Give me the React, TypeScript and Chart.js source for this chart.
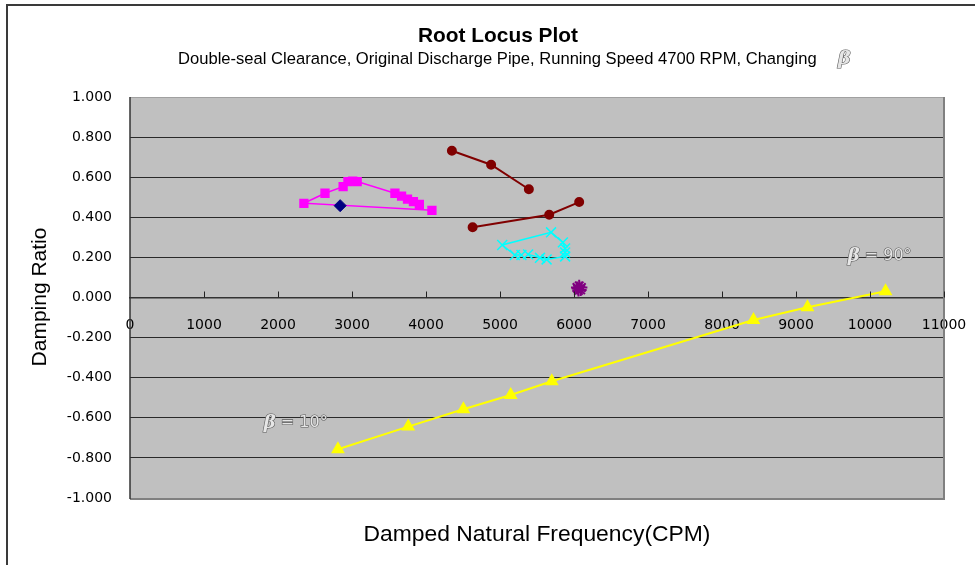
import React, { useEffect, useRef } from "react";
import { Chart, registerables } from "chart.js";
Chart.register(...registerables);

// ---- data ----
const xTickValues = [0, 1000, 2000, 3000, 4000, 5000, 6000, 7000, 8000, 9000, 10000, 11000];
const yTickLabels = ["1.000", "0.800", "0.600", "0.400", "0.200", "0.000", "-0.200", "-0.400", "-0.600", "-0.800", "-1.000"];

const pinkX = [4080, 2350, 2635, 2880, 2945, 3010, 3070, 3580, 3670, 3750, 3830, 3910];
const pinkY = [0.435, 0.47, 0.52, 0.553, 0.578, 0.58, 0.578, 0.52, 0.506, 0.491, 0.478, 0.465];

const navyX = [2840];
const navyY = [0.458];

const brownAX = [4350, 4880, 5390];
const brownAY = [0.732, 0.662, 0.54];
const brownBX = [4630, 5665, 6070];
const brownBY = [0.35, 0.413, 0.476];

const cyanX = [5290, 5200, 5030, 5690, 5850, 5880, 5880, 5880, 5630, 5540, 5380];
const cyanY = [0.212, 0.212, 0.262, 0.325, 0.275, 0.245, 0.225, 0.205, 0.19, 0.198, 0.215];

const purpleX = [6040, 6070, 6100, 6060, 6090, 6050];
const purpleY = [0.05, 0.058, 0.05, 0.035, 0.038, 0.045];

const yellowX = [2810, 3760, 4505, 5145, 5700, 8425, 9155, 10210];
const yellowY = [-0.757, -0.644, -0.557, -0.486, -0.418, -0.112, -0.049, 0.031];

const noteText = ["= 90°", "= 10°"];
const noteX = [10130, 2240];
const noteY = [0.207, -0.626];

const titleText = "Root Locus Plot";
const subtitleText = "Double-seal Clearance, Original Discharge Pipe, Running Speed 4700 RPM, Changing";
const xTitle = "Damped Natural Frequency(CPM)";
const yTitle = "Damping Ratio";

const pts = (xs: number[], ys: number[]) => xs.map((x, i) => ({ x, y: ys[i] }));

const fitSize = (ctx: CanvasRenderingContext2D, text: string, style: string, family: string, target: number) => {
  ctx.font = `${style} 100px ${family}`;
  const w = ctx.measureText(text).width;
  return (100 * target) / w;
};

const embossText = (ctx: CanvasRenderingContext2D, text: string, x: number, y: number) => {
  ctx.lineWidth = 1.2;
  ctx.strokeStyle = "#5a5a5a";
  ctx.fillStyle = "#e6e6e6";
  ctx.strokeText(text, x, y);
  ctx.fillText(text, x, y);
};

const decorPlugin = {
  id: "decor",
  beforeDraw(chart: any) {
    const { ctx, chartArea: a } = chart;
    ctx.save();
    ctx.fillStyle = "#ffffff";
    ctx.fillRect(0, 0, chart.width, chart.height);
    ctx.fillStyle = "#C0C0C0";
    ctx.fillRect(a.left, a.top, a.right - a.left, a.bottom - a.top);
    ctx.restore();
  },
  afterDraw(chart: any) {
    const { ctx, chartArea: a, scales } = chart;
    const xs = scales.x;
    const ys = scales.y;
    ctx.save();
    // plot-area edges
    ctx.strokeStyle = "#a0a0a0";
    ctx.lineWidth = 1;
    ctx.beginPath();
    ctx.moveTo(a.left, a.top + 0.5);
    ctx.lineTo(a.right, a.top + 0.5);
    ctx.stroke();
    ctx.strokeStyle = "#808080";
    ctx.lineWidth = 2;
    ctx.beginPath();
    ctx.moveTo(a.right, a.top);
    ctx.lineTo(a.right, a.bottom + 1);
    ctx.lineTo(a.left, a.bottom + 1);
    ctx.stroke();
    ctx.strokeStyle = "#333";
    ctx.lineWidth = 1.5;
    ctx.beginPath();
    ctx.moveTo(a.left, a.top);
    ctx.lineTo(a.left, a.bottom + 1);
    ctx.stroke();
    // outer frame
    ctx.strokeStyle = "#3a3a3a";
    ctx.lineWidth = 2;
    ctx.beginPath();
    ctx.moveTo(7, chart.height);
    ctx.lineTo(7, 5);
    ctx.lineTo(chart.width, 5);
    ctx.stroke();
    // x tick marks (inside, above the axis)
    const y0 = ys.getPixelForValue(0);
    ctx.strokeStyle = "#222";
    ctx.lineWidth = 1;
    xTickValues.forEach((v) => {
      if (v === 0) return;
      const px = Math.round(xs.getPixelForValue(v)) + 0.5;
      ctx.beginPath();
      ctx.moveTo(px, y0 - 6);
      ctx.lineTo(px, y0);
      ctx.stroke();
    });
    // titles
    ctx.fillStyle = "#000";
    ctx.textBaseline = "middle";
    ctx.textAlign = "center";
    let s = fitSize(ctx, titleText, "bold", "'Liberation Sans', Arial", 160);
    ctx.font = `bold ${s}px 'Liberation Sans', Arial`;
    ctx.fillText(titleText, 498, 36);
    s = fitSize(ctx, subtitleText, "normal", "'Liberation Sans', Arial", 639);
    ctx.font = `normal ${s}px 'Liberation Sans', Arial`;
    ctx.textAlign = "left";
    ctx.fillText(subtitleText, 178, 59);
    ctx.font = `italic bold 19px 'DejaVu Serif', serif`;
    embossText(ctx, "β", 838, 59);
    // axis titles
    ctx.textAlign = "center";
    s = fitSize(ctx, xTitle, "normal", "'Liberation Sans', Arial", 347);
    ctx.font = `normal ${s}px 'Liberation Sans', Arial`;
    ctx.fillStyle = "#000";
    ctx.fillText(xTitle, 537, 535);
    s = fitSize(ctx, yTitle, "normal", "'Liberation Sans', Arial", 139);
    ctx.font = `normal ${s}px 'Liberation Sans', Arial`;
    ctx.save();
    ctx.translate(40, 297);
    ctx.rotate(-Math.PI / 2);
    ctx.fillText(yTitle, 0, 0);
    ctx.restore();
    // annotations
    noteText.forEach((t, i) => {
      const px = xs.getPixelForValue(noteX[i]);
      const py = ys.getPixelForValue(noteY[i]);
      ctx.font = "italic bold 18px 'DejaVu Serif', serif";
      const bw = ctx.measureText("β").width;
      ctx.font = "16px 'DejaVu Sans', sans-serif";
      const tw = ctx.measureText(" " + t).width;
      const total = bw + tw;
      const left = px - total / 2;
      ctx.textAlign = "left";
      ctx.font = "italic bold 18px 'DejaVu Serif', serif";
      embossText(ctx, "β", left, py);
      ctx.font = "16px 'DejaVu Sans', sans-serif";
      embossText(ctx, " " + t, left + bw, py);
    });
    ctx.restore();
  },
};

export default function App() {
  const ref = useRef<HTMLCanvasElement | null>(null);
  useEffect(() => {
    if (!ref.current) return;
    Chart.defaults.font.family = "'DejaVu Sans', sans-serif";
    const chart = new Chart(ref.current, {
      type: "scatter",
      data: {
        datasets: [
          {
            label: "navy",
            data: pts(navyX, navyY),
            pointStyle: "rectRot",
            pointRadius: 6,
            backgroundColor: "#000080",
            borderColor: "#000080",
            showLine: false,
          },
          {
            label: "pink",
            data: pts(pinkX, pinkY),
            showLine: true,
            pointStyle: "rect",
            pointRadius: 5.5,
            backgroundColor: "#FF00FF",
            borderColor: "#FF00FF",
            borderWidth: 1.5,
          },
          {
            label: "brownA",
            data: pts(brownAX, brownAY),
            showLine: true,
            pointStyle: "circle",
            pointRadius: 4,
            backgroundColor: "#800000",
            borderColor: "#800000",
            borderWidth: 2,
          },
          {
            label: "brownB",
            data: pts(brownBX, brownBY),
            showLine: true,
            pointStyle: "circle",
            pointRadius: 4,
            backgroundColor: "#800000",
            borderColor: "#800000",
            borderWidth: 2,
          },
          {
            label: "cyan",
            data: pts(cyanX, cyanY),
            showLine: true,
            pointStyle: "crossRot",
            pointRadius: 7,
            pointBorderWidth: 1.5,
            backgroundColor: "#00FFFF",
            borderColor: "#00FFFF",
            borderWidth: 1.5,
          },
          {
            label: "purple",
            data: pts(purpleX, purpleY),
            showLine: true,
            pointStyle: "star",
            pointRadius: 6,
            pointBorderWidth: 2,
            backgroundColor: "#800080",
            borderColor: "#800080",
            borderWidth: 2,
          },
          {
            label: "yellow",
            data: pts(yellowX, yellowY),
            showLine: true,
            pointStyle: "triangle",
            pointRadius: 6,
            backgroundColor: "#FFFF00",
            borderColor: "#FFFF00",
            borderWidth: 2,
          },
        ],
      },
      options: {
        responsive: false,
        animation: false,
        devicePixelRatio: 1,
        layout: { padding: { left: 8, right: 31, top: 97, bottom: 67 } },
        plugins: { legend: { display: false }, tooltip: { enabled: false }, title: { display: false } },
        scales: {
          x: {
            type: "linear",
            position: { y: 0 } as any,
            min: 0,
            max: 11000,
            afterFit: (s: any) => {
              s.height = 0;
              s.paddingLeft = 0;
              s.paddingRight = 0;
            },
            afterBuildTicks: (s: any) => {
              s.ticks = xTickValues.map((v) => ({ value: v }));
            },
            ticks: {
              autoSkip: false,
              maxRotation: 0,
              padding: 19,
              color: "#000",
              font: { size: 14, family: "'DejaVu Sans', sans-serif" },
              callback: (v: any) => String(v),
            },
            grid: { display: true, drawOnChartArea: false, drawTicks: false, color: "rgba(0,0,0,0)" },
            border: { display: true, color: "#333", width: 1.5 },
          },
          y: {
            type: "linear",
            min: -1,
            max: 1,
            afterFit: (s: any) => {
              s.width = 122;
              s.paddingTop = 0;
              s.paddingBottom = 0;
            },
            afterBuildTicks: (s: any) => {
              s.ticks = yTickLabels.map((t) => ({ value: parseFloat(t) }));
            },
            ticks: {
              autoSkip: false,
              padding: 18,
              color: "#000",
              font: { size: 14, family: "'DejaVu Sans', sans-serif" },
              callback: (v: any) => {
                const f = yTickLabels.find((t) => Math.abs(parseFloat(t) - v) < 1e-9);
                return f ?? Number(v).toFixed(3);
              },
            },
            grid: {
              drawTicks: false,
              color: (c: any) => (Math.abs(Math.abs(c.tick.value) - 1) < 1e-9 ? "rgba(0,0,0,0)" : "#2a2a2a"),
              lineWidth: 1,
            },
            border: { display: false },
          },
        },
      },
      plugins: [decorPlugin],
    } as any);
    return () => chart.destroy();
  }, []);
  return (
    <div style={{ position: "absolute", left: 0, top: 0, width: 975, height: 565 }}>
      <canvas ref={ref} width={975} height={565} style={{ display: "block" }} />
    </div>
  );
}
